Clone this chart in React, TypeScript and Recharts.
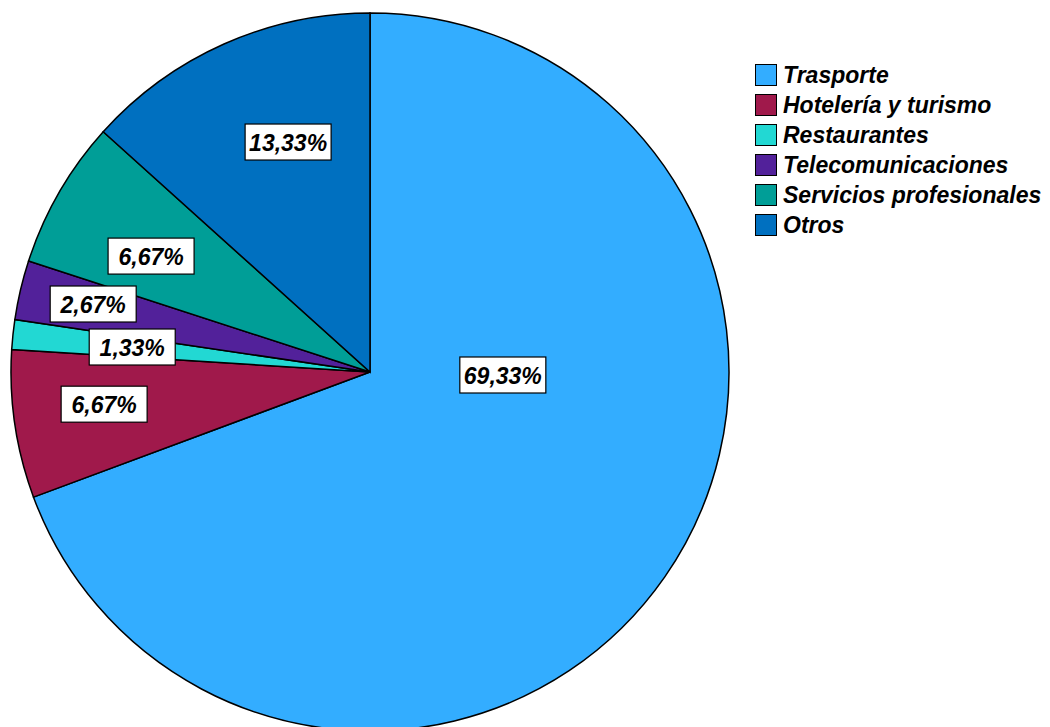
import { PieChart, Pie, Cell } from "recharts";

const categories = [
  "Trasporte",
  "Hotelería y turismo",
  "Restaurantes",
  "Telecomunicaciones",
  "Servicios profesionales",
  "Otros",
];
const counts = [52, 5, 1, 2, 5, 10];
const colors = ["#33adff", "#a0194b", "#22d8d3", "#52219a", "#009e97", "#0070c0"];

// label placement: distance from centre (share of radius) and a small angle nudge (degrees)
const labelRadius = [0.37, 0.746, 0.666, 0.794, 0.69, 0.68];
const labelNudge = [0, -1.5, 0, -0.6, 2.1, -4.4];

const data = categories.map((name, i) => ({ name, value: counts[i] }));
const total = counts.reduce((a, b) => a + b, 0);

const FONT = "'Liberation Sans', Arial, sans-serif";
const RAD = Math.PI / 180;

function fmt(v: number) {
  return ((v / total) * 100).toFixed(2).replace(".", ",") + "%";
}

function renderLabel(props: any) {
  const { cx, cy, midAngle, outerRadius, index, value } = props;
  const r = outerRadius * labelRadius[index];
  const a = (midAngle + labelNudge[index]) * RAD;
  let x = cx + r * Math.cos(-a);
  let y = cy + r * Math.sin(-a);
  if (index === 0) {
    // the big slice's label sits right of centre
    x = cx + r;
    y = cy + 3;
  }
  const w = 86;
  const h = 36;
  return (
    <g key={`lbl-${index}`}>
      <rect x={x - w / 2} y={y - h / 2} width={w} height={h} fill="#fff" stroke="#000" strokeWidth={1.2} />
      <text
        x={x}
        y={y + 1}
        textAnchor="middle"
        dominantBaseline="central"
        fontFamily={FONT}
        fontSize={23}
        fontWeight="bold"
        fontStyle="italic"
        fill="#000"
      >
        {fmt(value)}
      </text>
    </g>
  );
}

function LegendBox() {
  return (
    <div style={{ position: "absolute", left: 755, top: 60, fontFamily: FONT }}>
      {categories.map((c, i) => (
        <div key={c} style={{ display: "flex", alignItems: "center", height: 30 }}>
          <span
            style={{
              width: 20,
              height: 20,
              background: colors[i],
              border: "1px solid #000",
              display: "inline-block",
              marginRight: 6,
            }}
          />
          <span style={{ fontSize: 23, fontWeight: "bold", fontStyle: "italic", color: "#000", whiteSpace: "nowrap" }}>
            {c}
          </span>
        </div>
      ))}
    </div>
  );
}

export default function App() {
  return (
    <div style={{ position: "absolute", left: 0, top: 0, width: 1050, height: 727, background: "#fff" }}>
      <PieChart width={1050} height={727} margin={{ top: 0, right: 0, bottom: 0, left: 0 }}>
        <Pie
          data={data}
          dataKey="value"
          nameKey="name"
          cx={370}
          cy={372}
          outerRadius={359}
          startAngle={90}
          endAngle={-270}
          stroke="#000"
          strokeWidth={1.5}
          label={renderLabel}
          labelLine={false}
          isAnimationActive={false}
        >
          {data.map((d, i) => (
            <Cell key={d.name} fill={colors[i]} />
          ))}
        </Pie>
      </PieChart>
      <LegendBox />
    </div>
  );
}
